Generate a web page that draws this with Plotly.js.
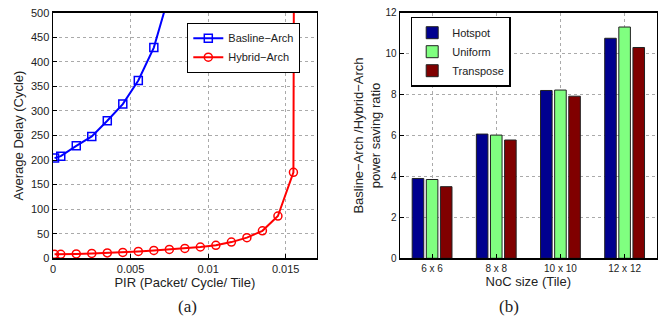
<!DOCTYPE html>
<html><head><meta charset="utf-8">
<script src="https://cdn.plot.ly/plotly-3.0.1.min.js"></script>
<style>html,body{margin:0;padding:0;background:#fff}#chart{width:669px;height:325px}</style>
</head><body><div id="chart"></div>
<script>
// Left panel: average delay vs PIR
const pir = [0.0001, 0.0005, 0.0015, 0.0025, 0.0035, 0.0045, 0.0055, 0.0065, 0.0075, 0.0085, 0.0095, 0.0105, 0.0115, 0.0125, 0.0135, 0.0145, 0.0155, 0.0156];
const baselineDelay = [204, 208, 229, 248, 280, 314, 362, 429, 538];
const hybridDelay = [8, 8, 9, 10, 11, 12, 14, 16, 18, 20, 23, 26.5, 33, 42, 56, 86, 175, 1500];
// Right panel: power saving ratio by NoC size
const nocSizes = ['6 x 6', '8 x 8', '10 x 10', '12 x 12'];
const hotspot = [3.9, 6.07, 8.2, 10.75];
const uniform = [3.85, 6.02, 8.22, 11.3];
const transpose = [3.5, 5.78, 7.92, 10.3];

const W = 669, H = 325;
const px = v => v / W, py = v => 1 - v / H;
const font = 'Liberation Sans, Arial, Helvetica, sans-serif';

const traces = [
  {x: pir.slice(0, baselineDelay.length), y: baselineDelay, name: 'Basline\u2212Arch', type: 'scatter', mode: 'lines+markers',
   line: {color: '#0000ff', width: 2}, marker: {symbol: 'square-open', size: 8, color: '#0000ff', line: {width: 1.5}},
   xaxis: 'x', yaxis: 'y', legend: 'legend'},
  {x: pir, y: hybridDelay, name: 'Hybrid\u2212Arch', type: 'scatter', mode: 'lines+markers',
   line: {color: '#ff0000', width: 2}, marker: {symbol: 'circle-open', size: 8, color: '#ff0000', line: {width: 1.5}},
   xaxis: 'x', yaxis: 'y', legend: 'legend'},
  {x: [1, 2, 3, 4], y: hotspot, name: 'Hotspot', type: 'bar', marker: {color: '#00008f', line: {color: '#222', width: 1}},
   xaxis: 'x2', yaxis: 'y2', legend: 'legend2'},
  {x: [1, 2, 3, 4], y: uniform, name: 'Uniform', type: 'bar', marker: {color: '#80ff80', line: {color: '#222', width: 1}},
   xaxis: 'x2', yaxis: 'y2', legend: 'legend2'},
  {x: [1, 2, 3, 4], y: transpose, name: 'Transpose', type: 'bar', marker: {color: '#800000', line: {color: '#222', width: 1}},
   xaxis: 'x2', yaxis: 'y2', legend: 'legend2'}
];

const gridStyle = {showgrid: true, gridcolor: '#aaaaaa', griddash: 'dot', gridwidth: 1,
  showline: true, linecolor: '#000', linewidth: 1.5, mirror: true, zeroline: false,
  ticks: 'inside', ticklen: 4, tickcolor: '#000', tickfont: {family: font, size: 11, color: '#222'}};

const layout = {
  width: W, height: H, margin: {l: 0, r: 0, t: 0, b: 0},
  paper_bgcolor: '#fff', plot_bgcolor: '#fff', showlegend: true,
  font: {family: font, color: '#222'},
  barmode: 'group', bargap: 0.34, bargroupgap: 0.18,
  xaxis: Object.assign({}, gridStyle, {domain: [px(53), px(316.7)], range: [0, 0.017], tickvals: [0, 0.005, 0.01, 0.015],
    ticktext: ['0', '0.005', '0.01', '0.015'], anchor: 'y',
    title: {text: 'PIR (Packet/ Cycle/ Tile)', font: {family: font, size: 13, color: '#222'}, standoff: 3}}),
  yaxis: Object.assign({}, gridStyle, {domain: [py(258.3), py(12.7)], range: [0, 500], dtick: 50, anchor: 'x',
    title: {text: 'Average Delay (Cycle)', font: {family: font, size: 13, color: '#222'}, standoff: 4}}),
  xaxis2: Object.assign({}, gridStyle, {domain: [px(400), px(656.7)], range: [0.5, 4.5], tickvals: [1, 2, 3, 4], ticktext: nocSizes,
    anchor: 'y2', tickfont: {family: font, size: 10, color: '#222'},
    title: {text: 'NoC size (Tile)', font: {family: font, size: 13, color: '#222'}, standoff: 3}}),
  yaxis2: Object.assign({}, gridStyle, {domain: [py(258.3), py(12.7)], range: [0, 12], dtick: 2, anchor: 'x2',
    tickfont: {family: font, size: 10, color: '#222'},
    title: {text: 'Basline\u2212Arch /Hybrid\u2212Arch<br>power saving ratio', font: {family: font, size: 13, color: '#222'}, standoff: 2}}),
  legend: {x: px(187.3), y: py(22.7), xanchor: 'left', yanchor: 'top', bgcolor: '#fff', bordercolor: '#000', borderwidth: 1,
    font: {family: font, size: 11, color: '#222'}, itemwidth: 30, tracegroupgap: 0},
  legend2: {x: px(410.7), y: py(16.7), xanchor: 'left', yanchor: 'top', bgcolor: '#fff', bordercolor: '#000', borderwidth: 1.5,
    font: {family: font, size: 11, color: '#222'}, itemwidth: 30, tracegroupgap: 0},
  annotations: [
    {text: '(a)', x: px(176), y: py(318), xref: 'paper', yref: 'paper', showarrow: false, font: {family: 'Liberation Serif, Times New Roman, serif', size: 17, color: '#222'}},
    {text: '(b)', x: px(521), y: py(318), xref: 'paper', yref: 'paper', showarrow: false, font: {family: 'Liberation Serif, Times New Roman, serif', size: 17, color: '#222'}}
  ]
};

Plotly.newPlot('chart', traces, layout, {displayModeBar: false, staticPlot: true});
</script>
</body></html>
